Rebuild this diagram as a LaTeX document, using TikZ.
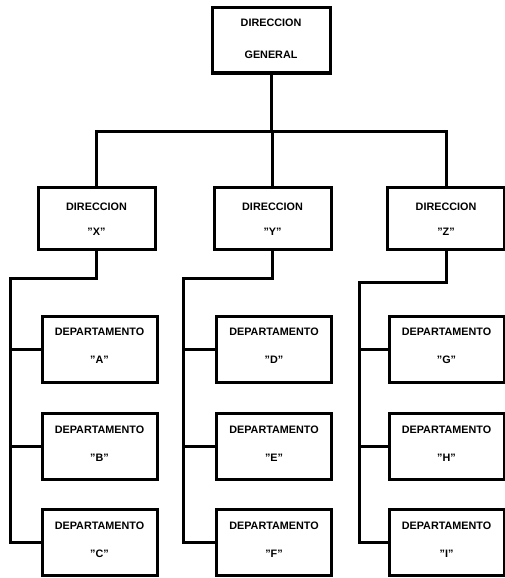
\documentclass[tikz,border=0pt]{standalone}
\usepackage{fontspec}
\setmainfont{Liberation Sans}
\newcommand\qq[1]{{\char34}#1{\char34}}
\begin{document}
\begin{tikzpicture}[x=1pt,y=-1pt,
  box/.style={draw,line width=3pt,inner sep=0pt},
  dirbox/.style={box,minimum width=117pt,minimum height=62pt},
  depbox/.style={box,minimum width=115pt,minimum height=66pt},
  txt/.style={inner sep=0pt,font=\bfseries\fontsize{10.8}{12}\selectfont},
  conn/.style={line width=3pt,line cap=rect}]
\useasboundingbox (0,0) rectangle (505,578);
% top
\node[box,minimum width=118pt,minimum height=65pt] (G) at (271,40.5) {};
\node[txt] (Gt1) at (271,23) {DIRECCION};
\node[txt] (Gt2) at (271,55) {GENERAL};
% direcciones
\node[dirbox] (X) at (96.5,218) {};
\node[txt] (Xt1) at (96.5,207) {DIRECCION};
\node[txt] (Xt2) at (96.5,232) {\qq{X}};
\node[dirbox] (Y) at (272.5,218) {};
\node[txt] (Yt1) at (272.5,207) {DIRECCION};
\node[txt] (Yt2) at (272.5,232) {\qq{Y}};
\node[dirbox] (Z) at (446,218) {};
\node[txt] (Zt1) at (446,207) {DIRECCION};
\node[txt] (Zt2) at (446,232) {\qq{Z}};
% departamentos
\foreach \n/\cx/\cy/\l in {A/99.5/349/A,B/99.5/446.5/B,C/99.5/542.5/C,
  D/274/349/D,E/274/446.5/E,F/274/542.5/F,
  Gd/446.5/349/G,H/446.5/446.5/H,I/446.5/542.5/I}{
  \node[depbox] (\n) at (\cx,\cy) {};
  \node[txt] (\n t1) at (\cx,\cy-17) {DEPARTAMENTO};
  \node[txt] (\n t2) at (\cx,\cy+11) {\qq{\l}};
}
% top connectors
\coordinate (bar) at (0,131);
\draw[conn] (G.south) -- (G.south |- bar);
\draw[conn] (X.north) -- (X.north |- bar) -- (Z.north |- bar) -- (Z.north);
\draw[conn] (Y.north) -- (Y.north |- bar);
% column 1
\coordinate (b1) at (10,278);
\draw[conn] (X.south) |- (b1) -- (b1 |- C.west) -- (C.west);
\draw[conn] (b1 |- A.west) -- (A.west);
\draw[conn] (b1 |- B.west) -- (B.west);
% column 2
\coordinate (b2) at (183,278);
\draw[conn] (Y.south) |- (b2) -- (b2 |- F.west) -- (F.west);
\draw[conn] (b2 |- D.west) -- (D.west);
\draw[conn] (b2 |- E.west) -- (E.west);
% column 3
\coordinate (b3) at (359,282);
\draw[conn] (Z.south) |- (b3) -- (b3 |- I.west) -- (I.west);
\draw[conn] (b3 |- Gd.west) -- (Gd.west);
\draw[conn] (b3 |- H.west) -- (H.west);
\end{tikzpicture}
\end{document}
